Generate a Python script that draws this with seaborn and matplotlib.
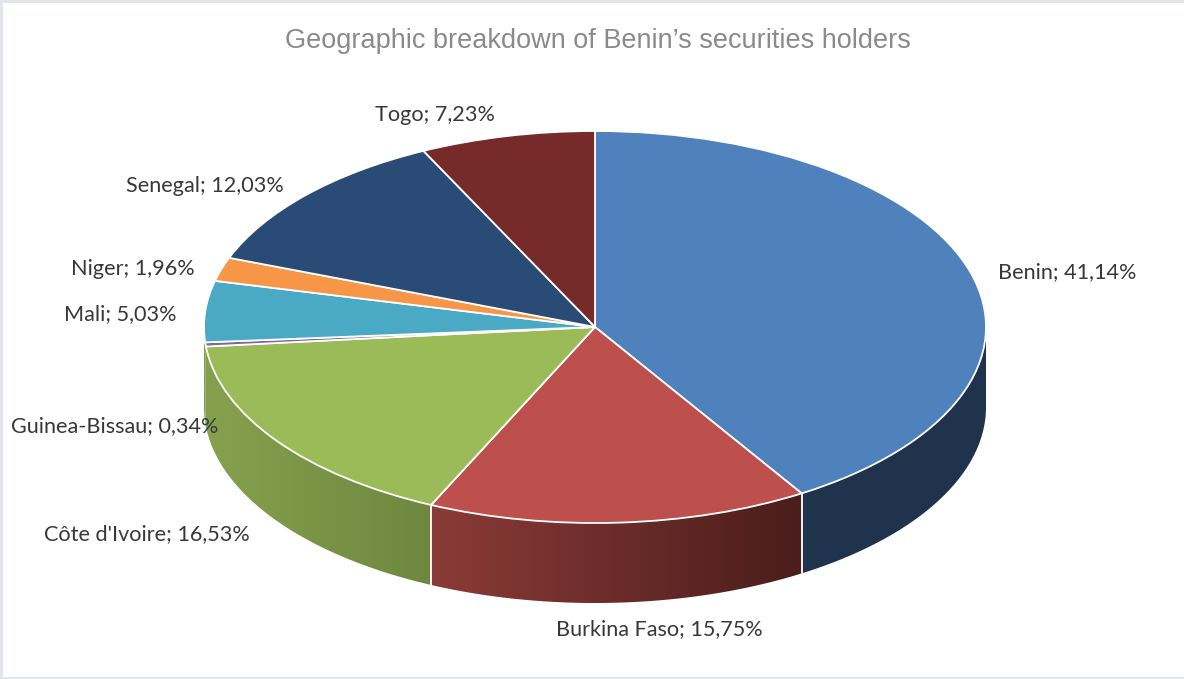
import numpy as np
import matplotlib.pyplot as plt
from matplotlib.colors import LinearSegmentedColormap
from matplotlib.patches import Polygon, Rectangle
import seaborn as sns

# =========================================================================
# 1. DATA
# =========================================================================
countries = ["Benin", "Burkina Faso", "Côte d'Ivoire", "Guinea-Bissau", "Mali", "Niger", "Senegal", "Togo"]
shares = [41.14, 15.75, 16.53, 0.34, 5.03, 1.96, 12.03, 7.23]
share_labels = ["41,14%", "15,75%", "16,53%", "0,34%", "5,03%", "1,96%", "12,03%", "7,23%"]
top_colors = ["#4f81bd", "#bd4f4c", "#9bbb59", "#8064a2", "#4aa9c5", "#f79646", "#2a4b75", "#772a2a"]
title = "Geographic breakdown of Benin’s securities holders"

# side wall colours, left to right across the wall
wall_colors = {
    "Benin": ("#1f334d", "#1f334d"),
    "Burkina Faso": ("#8b3b38", "#4a1d1b"),
    "Côte d'Ivoire": ("#86a14e", "#6e873f"),
    "Guinea-Bissau": ("#86a14e", "#86a14e"),
    "Mali": ("#86a14e", "#86a14e"),
}

# label anchors in image pixels (left edge, vertical centre)
label_pos = {
    "Benin": (998, 272),
    "Burkina Faso": (556, 629),
    "Côte d'Ivoire": (44, 534),
    "Guinea-Bissau": (11, 426),
    "Mali": (64, 314),
    "Niger": (71, 268),
    "Senegal": (126, 185),
    "Togo": (375, 114),
}

# =========================================================================
# 2. GEOMETRY (pie drawn in unit coords, squashed by the axes limits)
# =========================================================================
W, H = 1184, 679
CX, CY = 595, 327
RX, RY = 391, 196
DEPTH = 80 / RY


def px(x):
    return (x - CX) / RX


def py(y):
    return (CY - y) / RY


sns.set_theme(style="white")
plt.rcParams["font.family"] = ["Lato", "DejaVu Sans"]

fig = plt.figure(figsize=(W / 100, H / 100), dpi=100, facecolor="#e2e5ea")
ax = fig.add_axes([0, 0, 1, 1])
palette = sns.color_palette(top_colors)

ax.pie(
    shares,
    colors=palette,
    startangle=90,
    counterclock=False,
    radius=1,
    normalize=True,
    wedgeprops={"edgecolor": "white", "linewidth": 1.3, "zorder": 5},
)
ax.set_aspect("auto")
ax.set_axis_on()
ax.set_frame_on(False)

# =========================================================================
# 3. SIDE WALLS
# =========================================================================
edges = np.cumsum([0] + shares) / sum(shares) * 2 * np.pi
for i, name in enumerate(countries):
    t0 = max(edges[i], np.pi / 2)
    t1 = min(edges[i + 1], 3 * np.pi / 2)
    if t1 <= t0:
        continue
    t = np.linspace(t0, t1, 200)
    xs, ys = np.sin(t), np.cos(t)
    pts = np.r_[np.c_[xs, ys], np.c_[xs[::-1], ys[::-1] - DEPTH]]
    left, right = wall_colors[name]
    x_lo, x_hi = min(xs[0], xs[-1]), max(xs[0], xs[-1])
    cmap = LinearSegmentedColormap.from_list(name.replace(" ", "_"), [left, right])
    grad = np.linspace(0, 1, 256).reshape(1, -1)
    im = ax.imshow(
        grad,
        cmap=cmap,
        aspect="auto",
        extent=(x_lo, x_hi, (ys - DEPTH).min(), ys.max()),
        zorder=2,
    )
    clip = Polygon(pts, closed=True, transform=ax.transData, facecolor="none", edgecolor="none")
    ax.add_patch(clip)
    im.set_clip_path(clip)

    # white seam where two walls meet
    x_seam, y_seam = np.sin(t1), np.cos(t1)
    if name in ("Benin", "Burkina Faso"):
        ax.plot([x_seam, x_seam], [y_seam, y_seam - DEPTH], color="white", lw=1.3, zorder=3)

ax.set_xlim(px(0), px(W))
ax.set_ylim(py(H), py(0))
ax.set_xticks([])
ax.set_yticks([])

# white chart area inside the pale screenshot border
ax.add_patch(Rectangle((px(3), py(677)), px(W) - px(3), py(3) - py(677), facecolor="white", edgecolor="none", zorder=0))

# =========================================================================
# 4. TEXT
# =========================================================================
for name, lab in zip(countries, share_labels):
    x0, y0 = label_pos[name]
    ax.text(px(x0), py(y0 + 0.5), f"{name}; {lab}", ha="left", va="center", fontsize=15.6, color="#383838", zorder=6)

ax.text(px(598), py(41), title, ha="center", va="center", fontsize=19.55, color="#8a8a8a",
        family=["Liberation Sans", "DejaVu Sans"], zorder=6)

fig.savefig("out.png", dpi=100, facecolor=fig.get_facecolor())
